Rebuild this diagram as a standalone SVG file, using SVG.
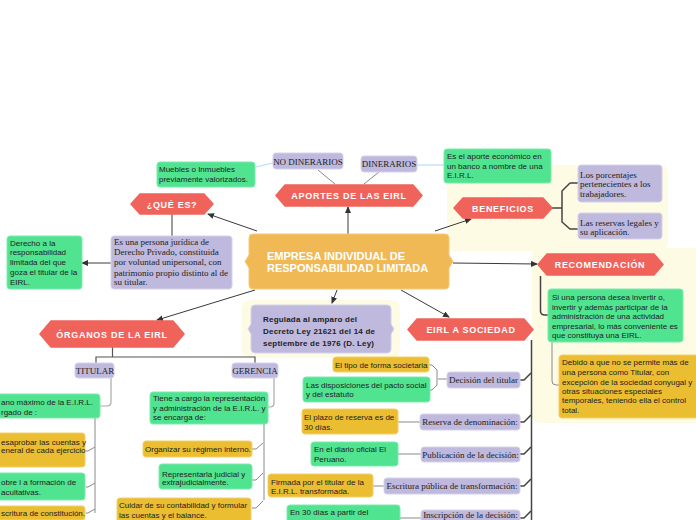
<svg xmlns="http://www.w3.org/2000/svg" width="696" height="520" viewBox="0 0 696 520">
<defs>
<marker id="ar" markerWidth="7" markerHeight="6" refX="6" refY="3" orient="auto" markerUnits="userSpaceOnUse">
<path d="M0,0 L7,3 L0,6 Z" fill="#333"/>
</marker>
<style>
.bg{fill:#FEFBE4}
.red{fill:#F0635B;stroke:#F0635B;stroke-width:1.5;stroke-linejoin:round}
.pur{fill:#BEB9DD;stroke:#D5D2EC;stroke-width:1}
.grn{fill:#50E390;stroke:#7CEAAE;stroke-width:1}
.gld{fill:#EBBD30;stroke:#F1D06A;stroke-width:1}
.ctr{fill:#F1B955;stroke:#F4C878;stroke-width:1}
.hl{font-family:"Liberation Sans",Arial,sans-serif;font-weight:bold;font-size:9px;fill:#fff;letter-spacing:0.7px;text-anchor:middle}
.ser{font-family:"Liberation Serif","Times New Roman",serif;font-size:9px;fill:#222}
.san{font-family:"Liberation Sans",Arial,sans-serif;font-size:8px;fill:#222}
.mid{text-anchor:middle}
.c1{fill:none;stroke:#3a3a3a;stroke-width:1}
.c2{fill:none;stroke:#8a8a8a;stroke-width:1}
.c3{fill:none;stroke:#BFD7F5;stroke-width:1.2}
.c4{fill:none;stroke:#444;stroke-width:1.5}
.c5{fill:none;stroke:#aaa;stroke-width:1.2}
</style>
</defs>
<rect width="696" height="520" fill="#fff"/>
<g id="backgrounds">
<rect class="bg" x="447" y="165" width="221" height="86" rx="8"/>
<rect class="bg" x="532" y="248" width="170" height="175" rx="8"/>
<rect class="bg" x="242" y="300" width="158" height="58" rx="8"/>
</g>
<g id="connectors">
<line class="c1" x1="348" y1="234" x2="348" y2="207" marker-end="url(#ar)"/>
<line class="c1" x1="257" y1="231" x2="208" y2="214" marker-end="url(#ar)"/>
<line class="c1" x1="435" y1="231" x2="471" y2="219" marker-end="url(#ar)"/>
<line class="c1" x1="453" y1="263" x2="537" y2="264" marker-end="url(#ar)"/>
<line class="c1" x1="337" y1="290" x2="332" y2="303" marker-end="url(#ar)"/>
<line class="c1" x1="255" y1="290" x2="157" y2="320" marker-end="url(#ar)"/>
<line class="c1" x1="401" y1="290" x2="449" y2="317" marker-end="url(#ar)"/>
<line class="c1" x1="111" y1="263" x2="82" y2="263" marker-end="url(#ar)"/>
<line class="c1" x1="172" y1="214" x2="172" y2="236"/>
<line class="c2" x1="335" y1="184" x2="318" y2="170"/>
<line class="c2" x1="364" y1="184" x2="379" y2="172"/>
<line class="c3" x1="273" y1="163" x2="256" y2="167"/>
<line class="c3" x1="417" y1="165" x2="444" y2="165"/>
<path class="c4" d="M552,208 H562 M570,183 H578 M570,183 L562,191 V222 L570,229 H578"/>
<path class="c4" d="M540.5,276 V311 Q540.5,315 545,315 H548"/>
<path class="c2" d="M552,342 V381 Q552,385 556,385 H559"/>
<path class="c4" d="M531.5,340 V520"/>
<path class="c4" d="M520,380 H524 L531,373 M520,422 H524 L531,415 M520,454 H524 L531,447 M520,486 H524 L531,479 M520,518 H524 L531,511"/>
<path class="c2" d="M447,379 H438 M429,365 H432 L437,370 V385 L432,390 H430"/>
<line class="c2" x1="398" y1="422" x2="420" y2="422"/>
<line class="c2" x1="398" y1="454" x2="421" y2="454"/>
<line class="c2" x1="373" y1="486" x2="384" y2="486"/>
<line class="c2" x1="400" y1="518" x2="421" y2="518"/>
<path class="c4" d="M112.5,347 V357 M96,363 V357 H255 V363" style="stroke:#555;stroke-width:1.2"/>
<path class="c5" d="M111,378 V402 Q111,406 107,406 H100"/>
<path class="c5" d="M274,378 V403 Q274,407 270,407 H268"/>
<path class="c2" d="M95,418 V513 M86,451 H88 L95,447 M86,487 H88 L95,483 M86,513 H88 L95,509"/>
<path class="c2" d="M264,424 V500 M252,449 H256 L263,443 M252,480 H256 L263,473 M252,508 H256 L263,501"/>
</g>
<g id="n-center">
<path class="ctr" d="M253,234 H445 Q449,234 449,238 V255 L453,261.5 L449,268 V285 Q449,289 445,289 H253 Q249,289 249,285 V268 L245,261.5 L249,255 V238 Q249,234 253,234 Z"/>
<text font-family="'Liberation Sans',Arial,sans-serif" font-weight="bold" font-size="11" fill="#fff"><tspan x="267" y="259.5">EMPRESA INDIVIDUAL DE</tspan><tspan x="267" y="272">RESPONSABILIDAD LIMITADA</tspan></text>
</g>
<g id="n-aportes">
<path class="red" d="M285,185 L413,185 L422,195.5 L413,206 L285,206 L276,195.5Z"/>
<text class="hl" x="349" y="199">APORTES DE LAS EIRL</text>
</g>
<g id="n-quees">
<path class="red" d="M140,194 L204,194 L213,204 L204,214 L140,214 L131,204Z"/>
<text class="hl" x="172" y="207.5">¿QUÉ ES?</text>
</g>
<g id="n-beneficios">
<path class="red" d="M463,198 L543,198 L552,208 L543,218 L463,218 L454,208Z"/>
<text class="hl" x="503" y="211.5">BENEFICIOS</text>
</g>
<g id="n-recomendacion">
<path class="red" d="M547,254 L654,254 L663,264.5 L654,275 L547,275 L538,264.5Z"/>
<text class="hl" x="600" y="268">RECOMENDACIÓN</text>
</g>
<g id="n-organos">
<path class="red" d="M51,321 L173,321 L184,334 L173,347 L51,347 L40,334Z"/>
<text class="hl" x="112" y="338">ÓRGANOS DE LA EIRL</text>
</g>
<g id="n-sociedad">
<path class="red" d="M417,319 L524,319 L533,329.5 L524,340 L417,340 L408,329.5Z"/>
<text class="hl" x="471" y="333">EIRL A SOCIEDAD</text>
</g>
<g id="n-nodin">
<rect class="pur" x="273" y="153" width="70" height="16" rx="3"/>
<text class="ser mid" x="308" y="164.5">NO DINERARIOS</text>
</g>
<g id="n-din">
<rect class="pur" x="361" y="156" width="56" height="16" rx="3"/>
<text class="ser mid" x="389" y="167">DINERARIOS</text>
</g>
<g id="n-muebles">
<rect class="grn" x="157" y="162" width="98" height="25" rx="3"/>
<text class="san"><tspan x="159" y="172">Muebles o Inmuebles</tspan><tspan x="159" y="182">previamente valorizados.</tspan></text>
</g>
<g id="n-aporte">
<rect class="grn" x="444" y="149" width="107" height="34" rx="3"/>
<text class="san"><tspan x="447" y="159">Es el aporte económico en</tspan><tspan x="447" y="168.5">un banco a nombre de una</tspan><tspan x="447" y="178">E.I.R.L.</tspan></text>
</g>
<g id="n-porcentajes">
<rect class="pur" x="578" y="165" width="84" height="37" rx="3"/>
<text class="ser"><tspan x="580" y="177.5">Los porcentajes</tspan><tspan x="580" y="187">pertenecientes a los</tspan><tspan x="580" y="196.5">trabajadores.</tspan></text>
</g>
<g id="n-reservas">
<rect class="pur" x="578" y="213" width="84" height="26" rx="3"/>
<text class="ser"><tspan x="580" y="225.5">Las reservas legales y</tspan><tspan x="580" y="235">su aplicación.</tspan></text>
</g>
<g id="n-persona">
<rect class="pur" x="111" y="236" width="121" height="53" rx="3"/>
<text class="ser"><tspan x="114" y="244.5">Es una persona jurídica de</tspan><tspan x="114" y="255">Derecho Privado, constituida</tspan><tspan x="114" y="265">por voluntad unipersonal, con</tspan><tspan x="114" y="275.5">patrimonio propio distinto al de</tspan><tspan x="114" y="285">su titular.</tspan></text>
</g>
<g id="n-derecho">
<rect class="grn" x="7" y="236" width="75" height="53" rx="3"/>
<text class="san"><tspan x="10" y="246">Derecho a la</tspan><tspan x="10" y="255">responsabilidad</tspan><tspan x="10" y="265">limitada del que</tspan><tspan x="10" y="275">goza el titular de la</tspan><tspan x="10" y="285">EIRL.</tspan></text>
</g>
<g id="n-regulada">
<path class="pur" d="M255,305 H387 Q391,305 391,309 V324 L394,329 L391,334 V349 Q391,353 387,353 H255 Q251,353 251,349 V334 L248,329 L251,324 V309 Q251,305 255,305Z"/>
<text class="san" font-weight="bold" letter-spacing="0.2"><tspan x="263" y="322">Regulada al amparo del</tspan><tspan x="263" y="334">Decreto Ley 21621 del 14 de</tspan><tspan x="263" y="345.5">septiembre de 1976 (D. Ley)</tspan></text>
</g>
<g id="n-si">
<rect class="grn" x="548" y="289" width="135" height="53" rx="3"/>
<text class="san"><tspan x="552" y="299.5">Si una persona desea invertir o,</tspan><tspan x="552" y="309.5">invertir y además participar de la</tspan><tspan x="552" y="319">administración de una actividad</tspan><tspan x="552" y="328.5">empresarial, lo más conveniente es</tspan><tspan x="552" y="338">que constituya una EIRL.</tspan></text>
</g>
<g id="n-debido">
<rect class="gld" x="559" y="355" width="140" height="63" rx="3"/>
<text class="san"><tspan x="562" y="365">Debido a que no se permite más de</tspan><tspan x="562" y="375">una persona como Titular, con</tspan><tspan x="562" y="384.5">excepción de la sociedad conyugal y</tspan><tspan x="562" y="394">otras situaciones especiales</tspan><tspan x="562" y="403">temporales, teniendo ella el control</tspan><tspan x="562" y="412.5">total.</tspan></text>
</g>
<g id="n-titular">
<rect class="pur" x="75" y="363" width="39" height="15" rx="3"/>
<text class="ser mid" x="95" y="373.5">TITULAR</text>
</g>
<g id="n-gerencia">
<rect class="pur" x="232" y="363" width="46" height="15" rx="3"/>
<text class="ser mid" x="255" y="373.5">GERENCIA</text>
</g>
<g id="n-organo">
<rect class="grn" x="-10" y="394" width="110" height="24" rx="3"/>
<text class="san"><tspan x="1" y="405">ano máximo de la E.I.R.L.</tspan><tspan x="1" y="414.5">rgado de :</tspan></text>
</g>
<g id="n-desaprobar">
<rect class="gld" x="-10" y="433" width="95" height="34" rx="3"/>
<text class="san"><tspan x="1" y="444.5">esaprobar las cuentas y</tspan><tspan x="1" y="453">eneral de cada ejercicio</tspan></text>
</g>
<g id="n-sobre">
<rect class="grn" x="-10" y="473" width="95" height="27" rx="3"/>
<text class="san"><tspan x="1" y="485">obre l a formación de</tspan><tspan x="1" y="495">acultativas.</tspan></text>
</g>
<g id="n-escritura">
<rect class="gld" x="-10" y="506" width="95" height="14" rx="3"/>
<text class="san" x="1" y="516">scritura de constitución.</text>
</g>
<g id="n-tiene">
<rect class="grn" x="150" y="392" width="118" height="32" rx="3"/>
<text class="san"><tspan x="153" y="401">Tiene a cargo la representación</tspan><tspan x="153" y="411">y administración de la E.I.R.L. y</tspan><tspan x="153" y="419.5">se encarga de:</tspan></text>
</g>
<g id="n-organizar">
<rect class="gld" x="143" y="441" width="109" height="16" rx="3"/>
<text class="san" x="145" y="452">Organizar su régimen interno.</text>
</g>
<g id="n-representar">
<rect class="grn" x="159" y="464" width="93" height="25" rx="3"/>
<text class="san"><tspan x="162" y="476.5">Representarla judicial y</tspan><tspan x="162" y="485">extrajudicialmente.</tspan></text>
</g>
<g id="n-cuidar">
<rect class="gld" x="117" y="498" width="134" height="26" rx="3"/>
<text class="san"><tspan x="119" y="508">Cuidar de su contabilidad y formular</tspan><tspan x="119" y="518">las cuentas y el balance.</tspan></text>
</g>
<g id="n-tipo">
<rect class="gld" x="333" y="357" width="96" height="15" rx="3"/>
<text class="san" x="335" y="367.5">El tipo de forma societaria</text>
</g>
<g id="n-disposiciones">
<rect class="grn" x="303" y="377" width="127" height="25" rx="3"/>
<text class="san"><tspan x="306" y="388">Las disposiciones del pacto social</tspan><tspan x="306" y="397">y del estatuto</tspan></text>
</g>
<g id="n-decision">
<rect class="pur" x="447" y="372" width="73" height="16" rx="3"/>
<text class="ser mid" x="483.5" y="383">Decisión del titular</text>
</g>
<g id="n-plazo">
<rect class="gld" x="302" y="409" width="96" height="25" rx="3"/>
<text class="san"><tspan x="304" y="419.5">El plazo de reserva es de</tspan><tspan x="304" y="429.5">30 días.</tspan></text>
</g>
<g id="n-reserva">
<rect class="pur" x="420" y="414" width="100" height="16" rx="3"/>
<text class="ser mid" x="470" y="425">Reserva de denominación:</text>
</g>
<g id="n-diario">
<rect class="grn" x="311" y="442" width="87" height="24" rx="3"/>
<text class="san"><tspan x="314" y="452">En el diario oficial El</tspan><tspan x="314" y="462">Peruano.</tspan></text>
</g>
<g id="n-publicacion">
<rect class="pur" x="421" y="447" width="99" height="15" rx="3"/>
<text class="ser mid" x="470.5" y="457.5">Publicación de la decisión:</text>
</g>
<g id="n-firmada">
<rect class="gld" x="268" y="474" width="105" height="23" rx="3"/>
<text class="san"><tspan x="271" y="484.5">Firmada por el titular de la</tspan><tspan x="271" y="493.5">E.I.R.L. transformada.</tspan></text>
</g>
<g id="n-escpublica">
<rect class="pur" x="384" y="478" width="136" height="16" rx="3"/>
<text class="ser mid" x="452" y="489">Escritura pública de transformación:</text>
</g>
<g id="n-30dias">
<rect class="grn" x="287" y="505" width="113" height="25" rx="3"/>
<text class="san" x="290" y="514.5">En 30 días a  partir del</text>
</g>
<g id="n-inscripcion">
<rect class="pur" x="421" y="510" width="99" height="16" rx="3"/>
<text class="ser mid" x="470.5" y="517.5">Inscripción de la decisión:</text>
</g>
</svg>
